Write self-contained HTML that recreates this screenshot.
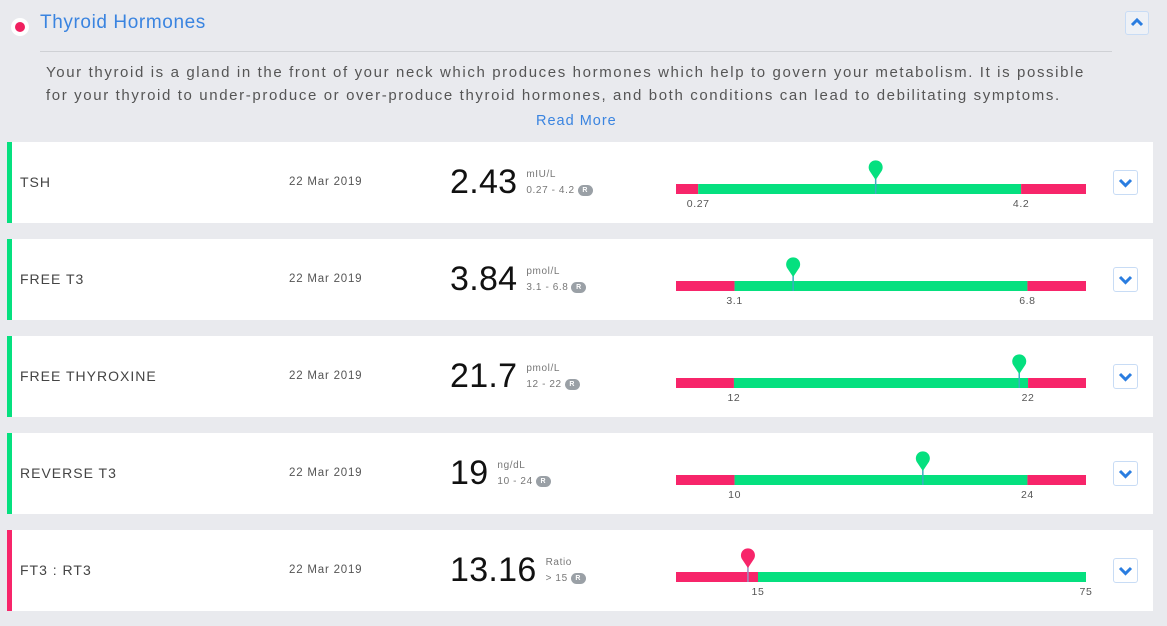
<!DOCTYPE html>
<html><head><meta charset="utf-8"><style>
*{margin:0;padding:0;box-sizing:border-box}
body{width:1167px;height:626px;background:#e9eaee;font-family:"Liberation Sans",sans-serif;position:relative;overflow:hidden}
.abs{position:absolute}
.card{position:absolute;left:7px;width:1146px;height:81px;background:#fff;border-left:5px solid #05e07f}
.name{position:absolute;left:8px;top:32px;font-size:14px;letter-spacing:1px;color:#444}
.date{position:absolute;left:277px;top:34px;font-size:11.5px;letter-spacing:0.8px;color:#555}
.vwrap{position:absolute;left:438px;top:21px;display:flex;align-items:flex-start}
.val{font-size:34px;color:#111;letter-spacing:0.3px;line-height:38px;margin-right:9px}
.units{padding-top:6px}
.unit{font-size:10px;letter-spacing:0.6px;color:#777;line-height:12px}
.rng{font-size:10px;letter-spacing:0.6px;color:#777;white-space:nowrap;margin-top:4px;line-height:12px}
.badge{display:inline-block;width:15px;height:11px;border-radius:6px;background:#9aa0a6;color:#fff;font-size:7px;text-align:center;line-height:11px;vertical-align:middle;margin-left:3px;font-weight:bold}
.btn{position:absolute;left:1101px;top:28px;width:25px;height:25px;border:1px solid #c8dcf5;border-radius:3px;background:#fff}
</style></head><body>
<div class="abs" style="left:11px;top:18px;width:18px;height:18px;border-radius:50%;background:#fff"></div>
<div class="abs" style="left:15px;top:22px;width:10px;height:10px;border-radius:50%;background:#f0205f"></div>
<div class="abs" style="left:40px;top:12px;font-size:19px;color:#3a84e0;letter-spacing:0.6px">Thyroid Hormones</div>
<div class="abs" style="left:1125px;top:11px;width:24px;height:24px;border:1px solid #c8dcf5;border-radius:3px;background:#eef1f6">
<svg width="22" height="22" style="position:absolute;left:0;top:0"><path d="M6 13 L11 8 L16 13" stroke="#2a7de0" stroke-width="3" fill="none"/></svg></div>
<div class="abs" style="left:40px;top:51px;width:1072px;height:1px;background:#cfd1d5"></div>
<div class="abs" style="left:46px;top:61px;white-space:nowrap;font-size:15px;line-height:23px;color:#555;letter-spacing:1.62px">Your thyroid is a gland in the front of your neck which produces hormones which help to govern your metabolism. It is possible<br>for your thyroid to under-produce or over-produce thyroid hormones, and both conditions can lead to debilitating symptoms.</div>
<div class="abs" style="left:536px;top:113px;font-size:14.5px;color:#3a84e0;letter-spacing:1px">Read More</div>
<div id="rows"></div>
<script>
const names=["TSH","FREE T3","FREE THYROXINE","REVERSE T3","FT3 : RT3"];
const values=[2.43,3.84,21.7,19,13.16];
const valueText=["2.43","3.84","21.7","19","13.16"];
const units=["mIU/L","pmol/L","pmol/L","ng/dL","Ratio"];
const rangeText=["0.27 - 4.2","3.1 - 6.8","12 - 22","10 - 24","> 15"];
const lows=[0.27,3.1,12,10,15];
const highs=[4.2,6.8,22,24,75];
const domMin=[0,2.36,10.03,7.2,0];
const domMax=[4.99,7.54,23.97,26.8,75];
const dates=["22 Mar 2019","22 Mar 2019","22 Mar 2019","22 Mar 2019","22 Mar 2019"];
const G="#05e07f",R="#f7256a";
const root=document.getElementById('rows');
const BX=664,BW=410;
names.forEach((n,i)=>{
  const c=document.createElement('div');c.className='card';c.style.top=(142+97*i)+'px';
  
  
  const x=v=>BX+(v-domMin[i])/(domMax[i]-domMin[i])*BW;
  const inRange=values[i]>=lows[i]&&values[i]<=highs[i];
  c.style.borderLeftColor=inRange?G:R;
  const xl=x(lows[i]),xh=Math.min(x(highs[i]),BX+BW),xv=x(values[i]);
  c.innerHTML=`<div class="name">${n}</div>
<div class="date">${dates[i]}</div>
<div class="vwrap"><div class="val">${valueText[i]}</div>
<div class="units"><div class="unit">${units[i]}</div>
<div class="rng">${rangeText[i]}<span class="badge">R</span></div></div></div>
<svg width="460" height="81" style="position:absolute;left:0;top:0;overflow:visible">
<rect x="${BX}" y="42" width="${xl-BX}" height="10" fill="${R}"/>
<rect x="${xl}" y="42" width="${xh-xl}" height="10" fill="${G}"/>
<rect x="${xh}" y="42" width="${BX+BW-xh}" height="10" fill="${R}"/>
<line x1="${xv}" y1="33" x2="${xv}" y2="52" stroke="${inRange?'#3ab0c0':'#9a8fc0'}" stroke-width="1.5"/>
<path d="M${xv} 38 L${xv-6} 29 A7 7 0 1 1 ${xv+6} 29 Z" fill="${inRange?G:R}"/>
<text x="${xl}" y="65" font-size="10.5" fill="#555" text-anchor="middle" letter-spacing="0.6" font-family="Liberation Sans">${lows[i]}</text>
<text x="${x(highs[i])}" y="65" font-size="10.5" fill="#555" text-anchor="middle" letter-spacing="0.6" font-family="Liberation Sans">${highs[i]}</text>
</svg>
<div class="btn"><svg width="23" height="23" style="position:absolute;left:0;top:0"><path d="M6 9 L11.5 14.5 L17 9" stroke="#2a7de0" stroke-width="3" fill="none"/></svg></div>`;
  root.appendChild(c);
});
</script>
</body></html>
